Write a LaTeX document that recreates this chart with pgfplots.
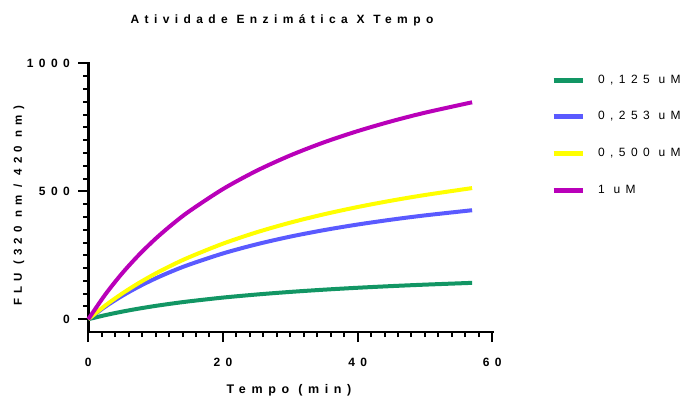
\documentclass[border=0pt]{standalone}
\usepackage{fontspec}
\setmainfont{Liberation Sans}
\newfontfamily\spc[LetterSpace=45]{Liberation Sans}
\usepackage{pgfplots}
\pgfplotsset{compat=1.18}
\definecolor{cgreen}{RGB}{18,150,100}
\definecolor{cblue}{RGB}{90,90,255}
\definecolor{cyellow}{RGB}{255,255,0}
\definecolor{cmag}{RGB}{185,0,185}
\begin{document}
\begin{tikzpicture}
\begin{axis}[
  scale only axis, width=404pt, height=268.5pt,
  xmin=0, xmax=60, ymin=-50, ymax=1000,
  axis lines=left,
  axis line style={-, line width=2.5pt, line cap=rect},
  xtick={0,20,40,60}, xticklabels={0,20,40,60},
  ytick={0,500,1000}, yticklabels={0,500,1000},
  minor xtick={2,4,...,58},
  minor ytick={50,100,...,950},
  tick align=outside,
  major tick length=10pt, minor tick length=5pt,
  every tick/.style={black, line width=2pt},
  ticklabel style={font=\spc\bfseries\fontsize{12}{14}\selectfont},
  xticklabel style={yshift=-13pt},
  yticklabel style={xshift=-5pt},
  legend style={at={(1.1378,0.964)}, anchor=north west, draw=none, fill=none,
    font=\spc\fontsize{12}{14}\selectfont, row sep=26.6pt, column sep=13pt,
    nodes={inner sep=0pt, text height=8pt, text depth=2pt}},
  legend cell align=left,
  legend image code/.code={\draw[#1, line width=5pt] (0pt,0pt) -- (29pt,0pt);},
  clip=false,
]
\addplot[cgreen, line width=4pt, smooth, line join=round] coordinates {
(0,0) (2.5,15.8) (5,29.5) (7.5,41.5) (10,52.1) (12.5,61.5) (15,70.0) (20,84.6) (25,96.6) (30,106.8) (35,115.5) (40,123.0) (45,129.5) (50,135.2) (57,142.2)};
\addlegendentry{0,125 uM}
\addplot[cblue, line width=4pt, smooth, line join=round] coordinates {
(0,0) (2.5,48.7) (5,90.8) (7.5,127.4) (10,159.7) (12.5,188.2) (15,213.7) (20,257.2) (25,293.0) (30,323.0) (35,348.4) (40,370.3) (45,389.3) (50,406.0) (57,426.2)};
\addlegendentry{0,253 uM}
\addplot[cyellow, line width=4pt, smooth, line join=round] coordinates {
(0,0) (2.5,53.1) (5,99.9) (7.5,141.5) (10,178.8) (12.5,212.3) (15,242.7) (20,295.5) (25,339.9) (30,377.7) (35,410.3) (40,438.7) (45,463.6) (50,485.7) (57,512.8)};
\addlegendentry{0,500 uM}
\addplot[cmag, line width=4pt, smooth, line join=round] coordinates {
(0,0) (2.5,95.8) (5,178.7) (7.5,251.1) (10,315.0) (12.5,371.6) (15,422.3) (20,509.0) (25,580.6) (30,640.6) (35,691.7) (40,735.6) (45,773.9) (50,807.6) (57,848.3)};
\addlegendentry{1 uM}
\end{axis}
\node[font=\spc\bfseries\fontsize{12}{14}\selectfont] at ([shift={(193.7pt,312pt)}]current axis.south west) {Atividade Enzimática X Tempo};
\node[rotate=90, font=\spc\bfseries\fontsize{11.5}{14}\selectfont] at ([shift={(-69.3pt,126pt)}]current axis.south west) {FLU (320 nm / 420 nm)};
\node[font=\spc\bfseries\fontsize{12.5}{14}\selectfont] at ([shift={(200.7pt,-58pt)}]current axis.south west) {Tempo (min)};
\pgfresetboundingbox
\path ([shift={(-88.3pt,-65pt)}]current axis.south west) rectangle ([shift={(597.7pt,332pt)}]current axis.south west);
\end{tikzpicture}
\end{document}
